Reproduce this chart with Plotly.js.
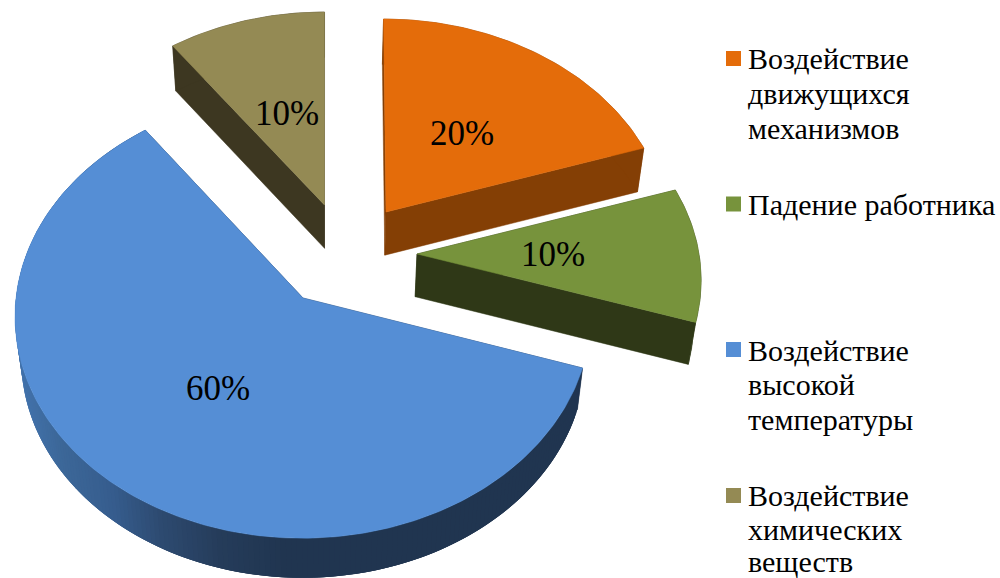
<!DOCTYPE html>
<html>
<head>
<meta charset="utf-8">
<script src="https://cdn.plot.ly/plotly-3.0.1.min.js"></script>
<style>html,body{margin:0;padding:0;background:#fff}#chart{width:1000px;height:578px}</style>
</head>
<body>
<div id="chart"></div>
<script>
// Shares of workplace injury causes, in pie order (clockwise from twelve o'clock)
const categories = [
  ["Воздействие", "движущихся", "механизмов"],
  ["Падение работника"],
  ["Воздействие", "высокой", "температуры"],
  ["Воздействие", "химических", "веществ"]
];
const shares = [20, 10, 60, 10];

const topColors = ["#E46C0A", "#77933C", "#558ED5", "#948A54"];
const sideColors = ["#843F05", "#2F3817", "#203550", "#3D3721"];

// Exploded slice geometry on the page (tilted disc with mild perspective)
const apexX = [386, 417, 303, 324.5];
const apexY = [212, 254, 298, 205];
const radiusX = [281, 282, 287, 281];
const radiusY = [214, 214, 221, 214];
const persp = [0.109, 0.109, 0.08, 0.109];
const labelX = [462, 553, 218, 287];
const labelY = [136, 257, 391, 116];

const VP = 325, FONT = "Liberation Serif, Times New Roman, serif";

function topPoint(i, deg, r) {
  const t = deg * Math.PI / 180, X = Math.sin(t) * r, Y = -Math.cos(t) * r;
  const w = 1 - persp[i] * Y;
  return [apexX[i] + radiusX[i] * X / w + (apexX[i] - VP) * 0.04 * Y,
          apexY[i] + radiusY[i] * Y / w];
}
// The underside of the disc, pulled slightly toward the vanishing point
function lowPoint(p) {
  return [VP + 0.98 * (p[0] - VP), p[1] + 45.5 - 0.011 * p[1]];
}
function poly(points, color, stroke) {
  const xs = points.map(p => p[0]), ys = points.map(p => p[1]);
  return { type: "scatter", mode: "lines", x: xs.concat(xs[0]), y: ys.concat(ys[0]),
    fill: "toself", fillcolor: color, line: { color: color, width: stroke },
    hoverinfo: "skip", showlegend: false };
}
// Rim shade of the large slice darkens from the left edge toward the front
const rimX = [20, 60, 110, 160, 220, 285];
const rimRGB = [[66,114,171],[60,103,152],[54,93,142],[45,74,112],[37,60,90],[32,53,80]];
function rimShade(x) {
  if (x <= rimX[0]) return rimRGB[0];
  for (let k = 1; k < rimX.length; k++) {
    if (x <= rimX[k]) {
      const f = (x - rimX[k-1]) / (rimX[k] - rimX[k-1]);
      return rimRGB[k-1].map((c, j) => Math.round(c + f * (rimRGB[k][j] - c)));
    }
  }
  return rimRGB[rimRGB.length - 1];
}

const traces = [];
const total = shares.reduce((a, b) => a + b, 0);
let start = 0;
const spans = shares.map(v => { const s = [start, start + v / total * 360]; start = s[1]; return s; });

[3, 0, 2, 1].forEach(i => {
  const [a0, a1] = spans[i];
  const steps = Math.max(8, Math.round(a1 - a0));
  const arc = [];
  for (let s = 0; s <= steps; s++) arc.push(topPoint(i, a0 + (a1 - a0) * s / steps, 1));
  const low = arc.map(lowPoint);
  const apex = topPoint(i, 0, 0), lowApex = lowPoint(apex);

  // cut faces
  traces.push(poly([apex, arc[0], low[0], lowApex], sideColors[i], 0.5));
  traces.push(poly([apex, arc[steps], low[steps], lowApex], sideColors[i], 0.5));
  // outer rim: the shaded one is laid in overlapping bands so no seams show
  if (i === 2) {
    for (let s = 0; s < steps; s++) {
      const e = Math.min(s + 3, steps);
      const band = arc.slice(s, e + 1).concat(low.slice(s, e + 1).reverse());
      const c = "rgb(" + rimShade((arc[s][0] + arc[s+1][0]) / 2).join(",") + ")";
      traces.push(poly(band, c, 0));
    }
  } else {
    traces.push(poly(arc.concat(low.slice().reverse()), sideColors[i], 0.5));
  }
  // top face
  traces.push(poly([apex].concat(arc), topColors[i], 0.5));
});

// Percent labels on the slices
traces.push({ type: "scatter", mode: "text", x: labelX, y: labelY,
  text: shares.map(v => Math.round(v / total * 100) + "%"),
  textposition: "middle center",
  textfont: { family: FONT, size: 35, color: "#000" },
  hoverinfo: "skip", showlegend: false });

// Legend: swatches and one text row per line
const swatchY = [58.5, 204, 349.5, 495.5];
const rowY = [[61.5, 96.5, 131], [207], [353, 387.5, 422], [498, 532, 564.5]];
traces.push({ type: "scatter", mode: "markers", x: swatchY.map(() => 733.5), y: swatchY,
  marker: { symbol: "square", size: 15, color: topColors, line: { width: 0 } },
  hoverinfo: "skip", showlegend: false });
const rowsX = [], rowsYAll = [], rowsText = [];
categories.forEach((lines, i) => lines.forEach((t, j) => {
  rowsX.push(748); rowsYAll.push(rowY[i][j]); rowsText.push(t);
}));
traces.push({ type: "scatter", mode: "text", x: rowsX, y: rowsYAll, text: rowsText,
  textposition: "middle right",
  textfont: { family: FONT, size: 30, color: "#000" },
  hoverinfo: "skip", showlegend: false, cliponaxis: false });

Plotly.newPlot("chart", traces, {
  width: 1000, height: 578,
  margin: { l: 0, r: 0, t: 0, b: 0 },
  paper_bgcolor: "#fff", plot_bgcolor: "#fff",
  xaxis: { range: [0, 1000], visible: false, fixedrange: true },
  yaxis: { range: [578, 0], visible: false, fixedrange: true },
  hovermode: false, showlegend: false
}, { displayModeBar: false, staticPlot: true });
</script>
</body>
</html>
